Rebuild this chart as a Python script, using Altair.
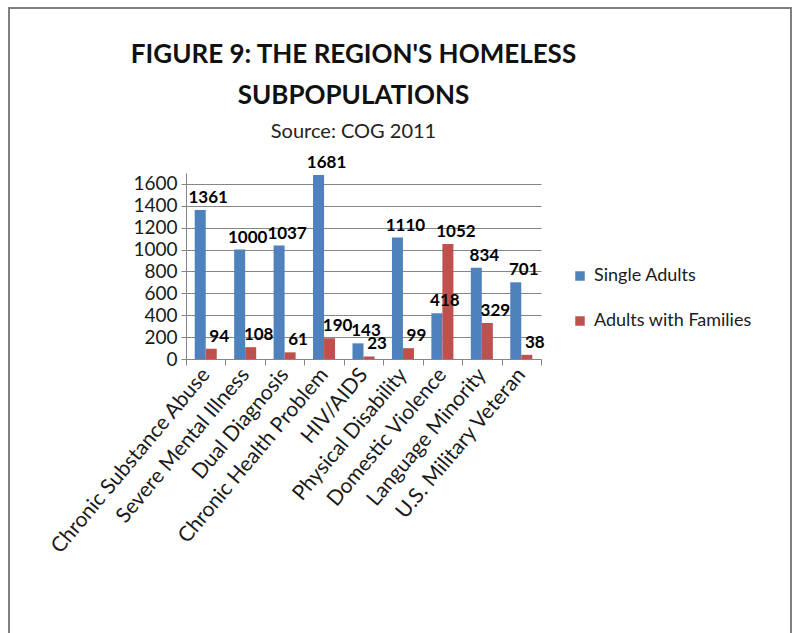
import altair as alt
import pandas as pd

categories = [
    "Chronic Substance Abuse", "Severe Mental Illness", "Dual Diagnosis",
    "Chronic Health Problem", "HIV/AIDS", "Physical Disability",
    "Domestic Violence", "Language Minority", "U.S. Military Veteran",
]
series_names = ["Single Adults", "Adults with Families"]
single_adults = [1361, 1000, 1037, 1681, 143, 1110, 418, 834, 701]
adults_with_families = [94, 108, 61, 190, 23, 99, 1052, 329, 38]
y_ticks = [0, 200, 400, 600, 800, 1000, 1200, 1400, 1600]

rows = []
for c, a, b in zip(categories, single_adults, adults_with_families):
    rows.append({"cat": c, "series": series_names[0], "value": a})
    rows.append({"cat": c, "series": series_names[1], "value": b})
df = pd.DataFrame(rows)

FONT = "Lato"
PL, PT = 186, 173
W, H = 355, 186

x = alt.X("cat:N", sort=categories, title=None,
          scale=alt.Scale(paddingInner=0, paddingOuter=0),
          axis=alt.Axis(labelAngle=-50, labelFontSize=21, labelFont=FONT,
                        labelColor="#1a1a1a", tickBand="extent", tickSize=6,
                        tickColor="#868686", domainColor="#868686",
                        labelPadding=6, labelLimit=400))
xo = alt.XOffset("series:N", sort=series_names,
                 scale=alt.Scale(paddingInner=0, paddingOuter=0.79))
y = alt.Y("value:Q", title=None,
          scale=alt.Scale(domain=[0, 1700], nice=False),
          axis=alt.Axis(values=y_ticks, format="d", labelFontSize=19, labelFont=FONT,
                        labelColor="#1a1a1a", tickSize=5, tickColor="#868686",
                        domainColor="#868686", gridColor="#868686",
                        labelPadding=4))

color = alt.Color("series:N", sort=series_names,
                  scale=alt.Scale(domain=series_names, range=["#4F81BD", "#C0504D"]),
                  legend=alt.Legend(title=None, orient="none", legendX=385, legendY=94,
                                    symbolType="square", symbolSize=90,
                                    symbolStrokeWidth=0, labelFontSize=18,
                                    labelFont=FONT, labelColor="#1a1a1a",
                                    rowPadding=27, symbolOffset=0, labelOffset=5))

bars = alt.Chart(df).mark_bar().encode(x=x, xOffset=xo, y=y, color=color)

labels = alt.Chart(df).mark_text(
    baseline="bottom", dy=-3, dx=8, fontSize=17, fontWeight="bold",
    font=FONT, color="#000000"
).encode(x=x, xOffset=xo, y=y, text=alt.Text("value:Q"))

frame = alt.Chart(df).mark_rect(fill=None, stroke="#808080", strokeWidth=2).encode(
    x=alt.value(9 - PL), x2=alt.value(791 - PL),
    y=alt.value(8 - PT), y2=alt.value(800),
)

chart = alt.layer(frame, bars, labels).properties(
    width=W, height=H,
    padding={"left": PL, "top": PT, "right": 793 - PL - W, "bottom": 633 - PT - H},
    autosize=alt.AutoSizeParams(type="none"),
    title=alt.TitleParams(
        text=["FIGURE 9: THE REGION'S HOMELESS", "SUBPOPULATIONS"],
        subtitle="Source: COG 2011",
        fontSize=26, font=FONT, fontWeight="bold", color="#111111",
        subtitleFontSize=20, subtitleFont=FONT, subtitleColor="#222222",
        lineHeight=41, subtitlePadding=13, anchor="middle", dx=-10, offset=-135,
    ),
).configure_view(stroke=None).configure_axisY(grid=True).configure_axisX(grid=False)

chart.save("out.html", embed_options={"renderer": "svg", "actions": False})
